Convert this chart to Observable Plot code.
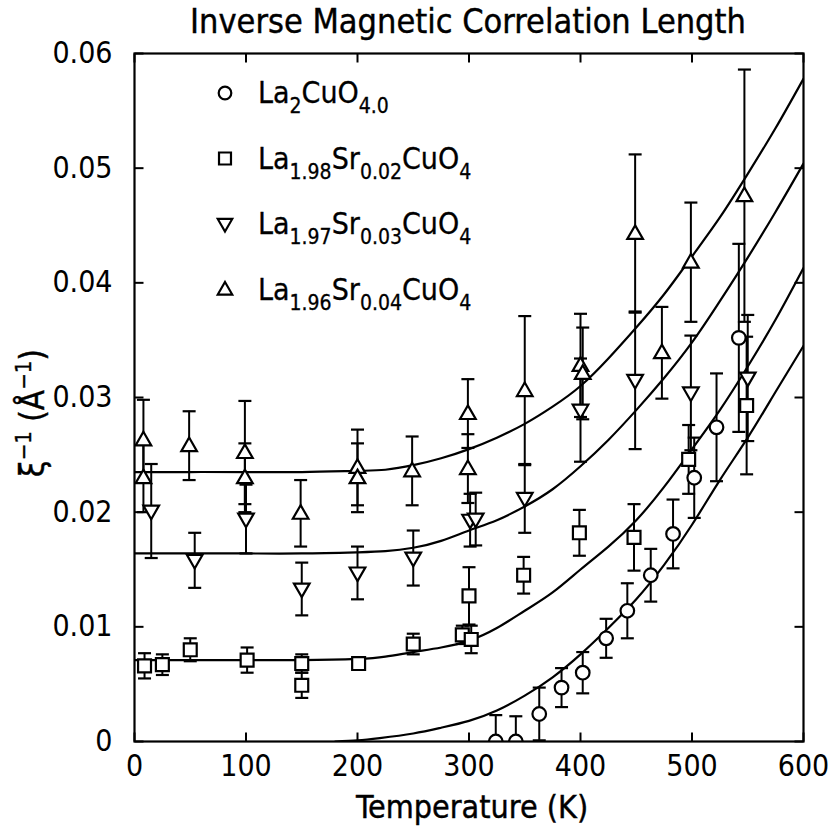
<!DOCTYPE html>
<html><head><meta charset="utf-8">
<script src="https://cdn.jsdelivr.net/npm/d3@7"></script>
<script src="https://cdn.jsdelivr.net/npm/@observablehq/plot@0.6"></script>
<style>body{margin:0;background:#fff}svg{display:block}</style>
</head><body><div id="chart"></div>
<script>
// ---- data ----
const titleText = "Inverse Magnetic Correlation Length";
const xLabel = "Temperature (K)";
const xTicks = [0, 100, 200, 300, 400, 500, 600];
const yTicks = [0, 0.01, 0.02, 0.03, 0.04, 0.05, 0.06];

// La2CuO4.0 (circles): T, value, error
const circT = [324, 342, 363, 383, 402, 423, 442, 463, 483, 502, 522, 542];
const circV = [0, 0, 0.0024, 0.0047, 0.0060, 0.0090, 0.0114, 0.0145, 0.0181, 0.0230, 0.0274, 0.0352];
const circE = [0.0023, 0.0022, 0.0023, 0.0017, 0.0018, 0.0017, 0.0024, 0.0023, 0.0030, 0.0035, 0.0047, 0.0082];

// La1.98Sr0.02CuO4 (squares)
const sqT = [9, 25, 50, 101, 150, 150, 201, 250, 294, 302, 300, 349, 399, 448, 497, 549];
const sqV = [0.0066, 0.0067, 0.0080, 0.0071, 0.0068, 0.0049, 0.0068, 0.0085, 0.0093, 0.0089, 0.0127, 0.0145, 0.0182, 0.0178, 0.0246, 0.0293];
const sqE = [0.0011, 0.0009, 0.0010, 0.0011, 0.0008, 0.0011, 0.0005, 0.0009, 0.0008, 0.0012, 0.0025, 0.0016, 0.0020, 0.0029, 0.0030, 0.0060];

// La1.97Sr0.03CuO4 (down triangles)
const dnT = [15, 54, 100, 150, 200, 250, 301, 306, 350, 400, 449, 499, 550];
const dnV = [0.0201, 0.0158, 0.0194, 0.0133, 0.0147, 0.0160, 0.0193, 0.0194, 0.0212, 0.0289, 0.0315, 0.0304, 0.0317];
const dnE = [0.0041, 0.0024, 0.0030, 0.0023, 0.0023, 0.0024, 0.0023, 0.0023, 0.0030, 0.0045, 0.0060, 0.0050, 0.0055];

// La1.96Sr0.04CuO4 (up triangles)
const upT = [8, 8, 49, 99, 99, 149, 200, 200, 249, 299, 299, 350, 400, 402, 449, 473, 499, 547];
const upV = [0.0263, 0.0230, 0.0258, 0.0252, 0.0230, 0.0199, 0.0239, 0.0230, 0.0236, 0.0286, 0.0238, 0.0306, 0.0328, 0.0321, 0.0443, 0.0339, 0.0418, 0.0476];
const upE = [0.0035, 0.0030, 0.0030, 0.0045, 0.0030, 0.0029, 0.0033, 0.0030, 0.0030, 0.0030, 0.0030, 0.0065, 0.0045, 0.0040, 0.0069, 0.0040, 0.0052, 0.0110];

// fitted curves
const fitCircT = [180, 200, 220, 250, 275, 300, 325, 350, 375, 400, 425, 450, 475, 500, 525, 550, 575, 600];
const fitCircV = [0, 0.0001, 0.0003, 0.0007, 0.0012, 0.0018, 0.0027, 0.0040, 0.0056, 0.0076, 0.0099, 0.0124, 0.0154, 0.0189, 0.0228, 0.0265, 0.0305, 0.0345];
const fitT = [0, 50, 100, 150, 200, 225, 250, 275, 300, 325, 350, 375, 400, 425, 450, 475, 500, 525, 550, 575, 600];
const fitSqV = [0.0071, 0.0071, 0.0071, 0.0071, 0.0072, 0.0074, 0.0078, 0.0082, 0.0088, 0.0099, 0.0114, 0.0130, 0.0150, 0.0170, 0.0193, 0.0222, 0.0255, 0.0289, 0.0327, 0.0368, 0.0413];
const fitDnV = [0.0164, 0.0164, 0.0164, 0.0164, 0.0165, 0.0166, 0.0169, 0.0175, 0.0184, 0.0193, 0.0205, 0.0220, 0.0240, 0.0263, 0.0289, 0.0317, 0.0348, 0.0384, 0.0422, 0.0462, 0.0504];
const fitUpV = [0.0235, 0.0235, 0.0235, 0.0235, 0.0236, 0.0237, 0.0241, 0.0247, 0.0255, 0.0265, 0.0277, 0.0292, 0.0310, 0.0334, 0.0361, 0.0390, 0.0423, 0.0457, 0.0495, 0.0535, 0.0578];

// ---- symbols ----
const rOf = size => Math.sqrt(size / Math.PI);
const symCircle = {draw(c, s){ const r = rOf(s); c.moveTo(r,0); c.arc(0,0,r,0,2*Math.PI); c.closePath(); }};
const symSquare = {draw(c, s){ const h = rOf(s)*0.95; c.rect(-h,-h,2*h,2*h); }};
const symUp = {draw(c, s){ const r = rOf(s); const w = r*1.15, h = r*2.0; c.moveTo(0,-h*0.6); c.lineTo(w,h*0.4); c.lineTo(-w,h*0.4); c.closePath(); }};
const symDown = {draw(c, s){ const r = rOf(s); const w = r*1.15, h = r*2.0; c.moveTo(0,h*0.6); c.lineTo(w,-h*0.4); c.lineTo(-w,-h*0.4); c.closePath(); }};
const symCap = {draw(c, s){ const r = rOf(s); c.moveTo(-r,0); c.lineTo(r,0); }};
const tickB = {draw(c){ c.moveTo(0,0); c.lineTo(0,-9); }};
const tickT = {draw(c){ c.moveTo(0,0); c.lineTo(0,9); }};
const tickL = {draw(c){ c.moveTo(0,0); c.lineTo(9,0); }};
const tickR = {draw(c){ c.moveTo(0,0); c.lineTo(-9,0); }};

function rows(T, V, E, s){ return T.map((t,i)=>({T:t, v:V[i], e:E[i], s})); }
const series = [
  {key:"c", sym:symCircle, data: rows(circT, circV, circE, "c")},
  {key:"q", sym:symSquare, data: rows(sqT, sqV, sqE, "q")},
  {key:"d", sym:symDown, data: rows(dnT, dnV, dnE, "d")},
  {key:"u", sym:symUp, data: rows(upT, upV, upE, "u")}
];
const allPts = series.flatMap(s=>s.data);
const caps = allPts.flatMap(d => {
  const out = [{T:d.T, v:d.v + d.e}];
  if (d.v - d.e >= 0) out.push({T:d.T, v:d.v - d.e});
  return out;
});
const fits = [
  ...fitCircT.map((t,i)=>({T:t, v:fitCircV[i], s:"c"})),
  ...fitT.map((t,i)=>({T:t, v:fitSqV[i], s:"q"})),
  ...fitT.map((t,i)=>({T:t, v:fitDnV[i], s:"d"})),
  ...fitT.map((t,i)=>({T:t, v:fitUpV[i], s:"u"}))
];

const FONT = "'DejaVu Sans Condensed','Liberation Sans Narrow','DejaVu Sans',sans-serif";

const plot = Plot.plot({
  width: 832, height: 835,
  marginLeft: 134, marginRight: 29, marginTop: 53, marginBottom: 94,
  x: {domain: [0, 600]},
  y: {domain: [0, 0.06]},
  style: {fontFamily: FONT, fontSize: "30px", background: "#fff", color: "#000"},
  marks: [
    Plot.line(fits, {x:"T", y:"v", z:"s", curve:"natural", stroke:"#000", strokeWidth:2.2, clip:true}),
    Plot.ruleX(allPts, {x:"T", y1: d=>Math.max(0, d.v-d.e), y2: d=>d.v+d.e, stroke:"#000", strokeWidth:2, clip:true}),
    Plot.dot(caps, {x:"T", y:"v", symbol: symCap, r: 6.5, stroke:"#000", strokeWidth:2.2}),
    ...series.map(s => Plot.dot(s.data, {x:"T", y:"v", symbol: s.sym, r: 6.8, fill:"#fff", stroke:"#000", strokeWidth:2.2, clip:true})),
    Plot.frame({stroke:"#000", strokeWidth:2.2}),
    Plot.dot(xTicks, {x: d=>d, frameAnchor:"bottom", symbol: tickB, stroke:"#000", strokeWidth:2}),
    Plot.dot(xTicks, {x: d=>d, frameAnchor:"top", symbol: tickT, stroke:"#000", strokeWidth:2}),
    Plot.dot(yTicks, {y: d=>d, frameAnchor:"left", symbol: tickL, stroke:"#000", strokeWidth:2}),
    Plot.dot(yTicks, {y: d=>d, frameAnchor:"right", symbol: tickR, stroke:"#000", strokeWidth:2}),
    Plot.axisX({ticks: xTicks, tickSize: 0, tickPadding: 13, label: null, tickFormat: d=>String(d), stroke:"#000", strokeWidth:0.7}),
    Plot.axisY({ticks: yTicks, tickSize: 0, tickPadding: 22, label: null, tickFormat: d=> d===0 ? "0" : d.toFixed(2), stroke:"#000", strokeWidth:0.7})
  ]
});
document.getElementById("chart").append(plot);

// ---- titles and legend (text with sub/superscripts) ----
const svg = d3.select(plot);
svg.append("text").attr("x", 468).attr("y", 33).attr("text-anchor","middle")
  .style("font-family", FONT).style("font-size","34px").attr("stroke","#000").attr("stroke-width",0.4).text(titleText);
svg.append("text").attr("x", 472).attr("y", 818).attr("text-anchor","middle")
  .style("font-family", FONT).style("font-size","32px").attr("stroke","#000").attr("stroke-width",0.4).text(xLabel);
const yl = svg.append("text").attr("transform","translate(44,413) rotate(-90)").attr("text-anchor","middle")
  .style("font-family", FONT).style("font-size","33px").attr("stroke","#000").attr("stroke-width",0.4);
yl.append("tspan").text("ξ");
yl.append("tspan").attr("dy",-13).style("font-size","22px").text("−1");
yl.append("tspan").attr("dy",13).text(" (Å");
yl.append("tspan").attr("dy",-13).style("font-size","22px").text("−1");
yl.append("tspan").attr("dy",13).text(")");

const legendItems = [
  {sym: symCircle, parts: [["La",0],["2",1],["CuO",0],["4.0",1]]},
  {sym: symSquare, parts: [["La",0],["1.98",1],["Sr",0],["0.02",1],["CuO",0],["4",1]]},
  {sym: symDown, parts: [["La",0],["1.97",1],["Sr",0],["0.03",1],["CuO",0],["4",1]]},
  {sym: symUp, parts: [["La",0],["1.96",1],["Sr",0],["0.04",1],["CuO",0],["4",1]]}
];
const lg = svg.append("g");
legendItems.forEach((it, i) => {
  const cy = 93 + i*65.5;
  const p = d3.path(); it.sym.draw(p, Math.PI*6.3*6.3);
  lg.append("path").attr("d", p.toString()).attr("transform", `translate(225,${cy})`)
    .attr("fill","#fff").attr("stroke","#000").attr("stroke-width",2.2);
  const t = lg.append("text").attr("x", 258).attr("y", cy + 10).attr("text-anchor","start")
    .style("font-family", FONT).style("font-size","30px").attr("stroke","#000").attr("stroke-width",0.3);
  let cur = 0;
  it.parts.forEach(([s, sub]) => {
    const target = sub ? 10 : 0;
    t.append("tspan").attr("dy", target - cur).style("font-size", sub ? "21px" : "30px").text(s);
    cur = target;
  });
});
</script></body></html>
